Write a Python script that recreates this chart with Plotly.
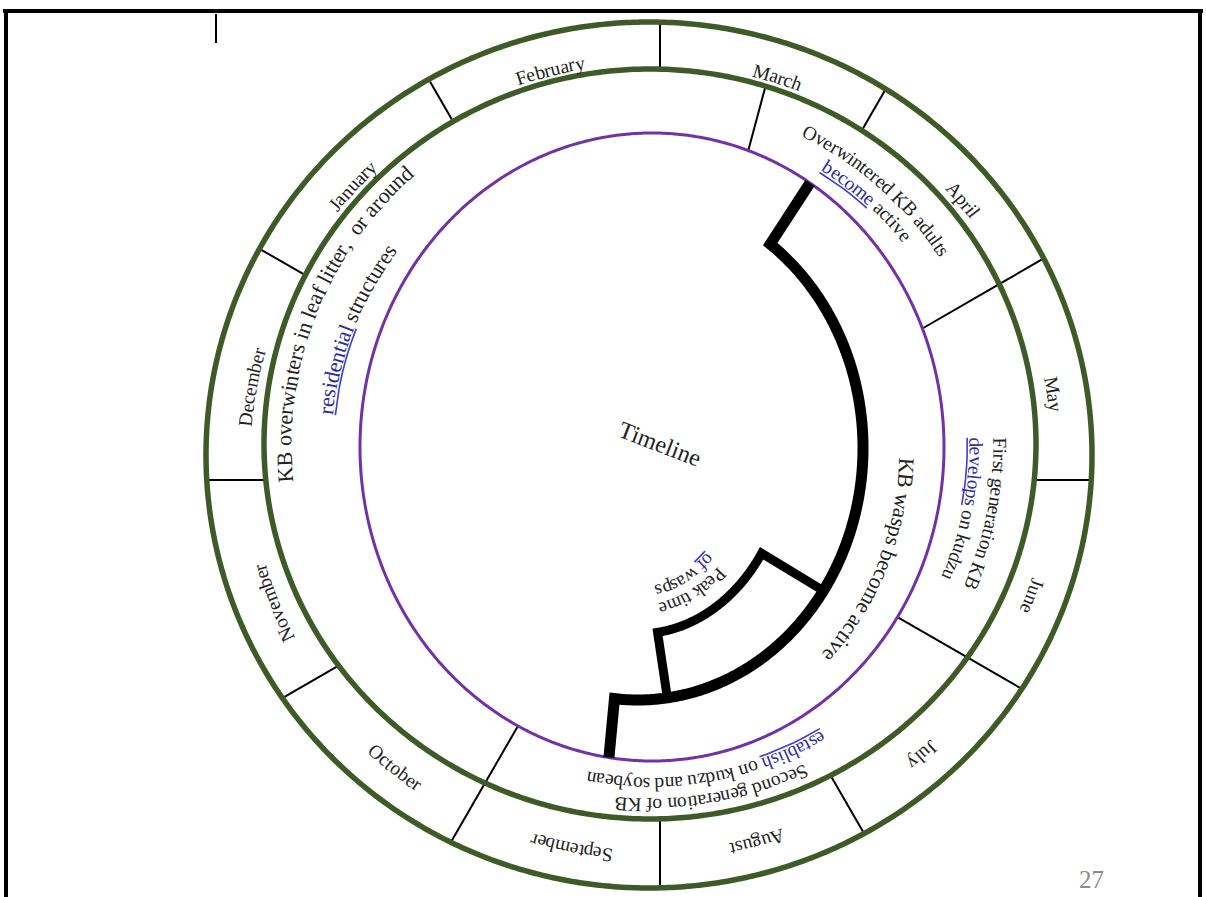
import numpy as np
import plotly.graph_objects as go

months = ["January", "February", "March", "April", "May", "June", "July",
          "August", "September", "October", "November", "December"]

# notes in the band inside the month ring ("~" marks a word with a blue squiggle)
event_lines = [["KB overwinters in leaf litter,  or around", "~residential structures"],
               ["Overwintered KB adults", "~become active"],
               ["First generation KB", "~develops on kudzu"],
               ["Second generation of KB", "~establish on kudzu and soybean"]]
event_month = [11.72, 3.38, 5.38, 7.67]     # months since 1 Jan where each note sits
event_breaks = [2.5, 4.0, 6.0, 9.0]         # dividers of the notes band

# wasp season arcs (months since 1 Jan)
wasp_active = [3.2, 8.2]
wasp_peak = [6.15, 7.75]
wasp_label_month = [5.78, 7.13]

FONT = "Liberation Serif, Times New Roman, serif"
INK = "#222222"
BLUE = "#2c2ca0"
GREEN = "#3e5a27"
PURPLE = "#7232a3"

OUTER = (649, 455, 443, 433)
MIDDLE = (650, 444, 386, 375)
PURPLE_E = (652, 447, 292, 314)
LABEL = (651, 457, 407, 400)
HUB = (660, 480)
LABEL_HUB = (665, 498)
ARC = (638, 448, 225, 252)
INNER = (638, 448, 150, 186)

# Times / Liberation Serif advance widths (1/1000 em)
W = {' ': 250, ',': 250, '.': 250,
     'A': 722, 'B': 667, 'C': 667, 'D': 722, 'E': 611, 'F': 556, 'G': 722, 'H': 722,
     'I': 333, 'J': 389, 'K': 722, 'L': 611, 'M': 889, 'N': 722, 'O': 722, 'P': 556,
     'Q': 722, 'R': 667, 'S': 556, 'T': 611, 'U': 722, 'V': 722, 'W': 944, 'X': 722,
     'Y': 722, 'Z': 611,
     'a': 444, 'b': 500, 'c': 444, 'd': 500, 'e': 444, 'f': 333, 'g': 500, 'h': 500,
     'i': 278, 'j': 278, 'k': 500, 'l': 278, 'm': 778, 'n': 500, 'o': 500, 'p': 500,
     'q': 500, 'r': 333, 's': 389, 't': 278, 'u': 500, 'v': 500, 'w': 722, 'x': 500,
     'y': 500, 'z': 444}


def month_ang(m):
    return 150 - 30 * m


def ell_pts(ell, t):
    cx, cy, rx, ry = ell
    t = np.radians(t)
    return cx + rx * np.cos(t), cy - ry * np.sin(t)


def ray_hit(origin, ang, ell):
    cx, cy, rx, ry = ell
    ox, oy = origin
    dx, dy = np.cos(np.radians(ang)), -np.sin(np.radians(ang))
    a = (dx / rx) ** 2 + (dy / ry) ** 2
    b = 2 * ((ox - cx) * dx / rx ** 2 + (oy - cy) * dy / ry ** 2)
    c = ((ox - cx) / rx) ** 2 + ((oy - cy) / ry) ** 2 - 1
    s = (-b + np.sqrt(b * b - 4 * a * c)) / (2 * a)
    return ox + s * dx, oy + s * dy


annotations = []
ul_x, ul_y = [], []


def arc_text(line, ell, t_mid, size, clockwise=True, color=INK):
    cx, cy, rx, ry = ell
    chars, blue = [], []
    for k, w in enumerate(line.split(" ")):
        b = w.startswith("~")
        w = w.lstrip("~")
        if k:
            chars.append(" ")
            blue.append(False)
        for ch in w:
            chars.append(ch)
            blue.append(b)
    wid = np.array([W.get(ch, 500) for ch in chars]) * size / 1000
    mid = np.cumsum(wid) - wid / 2 - wid.sum() / 2
    sgn = -1 if clockwise else 1
    ts = np.radians(t_mid + sgn * np.linspace(-100, 100, 4001))
    xs = cx + rx * np.cos(ts)
    ys = cy - ry * np.sin(ts)
    s = np.concatenate([[0], np.cumsum(np.hypot(np.diff(xs), np.diff(ys)))])
    s -= s[2000]
    prev = False
    for ch, p, bl in zip(chars, mid, blue):
        x = np.interp(p, s, xs)
        y = np.interp(p, s, ys)
        k = int(np.clip(np.searchsorted(s, p), 1, len(s) - 2))
        ang = np.degrees(np.arctan2(ys[k + 1] - ys[k - 1], xs[k + 1] - xs[k - 1]))
        if ch != " ":
            annotations.append(dict(x=x, y=y, text=ch, textangle=ang, showarrow=False,
                                    xanchor="center", yanchor="middle",
                                    font=dict(family=FONT, size=size,
                                              color=BLUE if bl else color)))
        if bl:
            off = 0.45 * size
            a = np.radians(ang)
            for q in (-0.5, 0.5):
                qx = x + q * W.get(ch, 500) * size / 1000 * np.cos(a)
                qy = y + q * W.get(ch, 500) * size / 1000 * np.sin(a)
                ul_x.append(qx - off * np.sin(a))
                ul_y.append(qy + off * np.cos(a))
        elif prev:
            ul_x.append(None)
            ul_y.append(None)
        prev = bl
    if prev:
        ul_x.append(None)
        ul_y.append(None)


fig = go.Figure()

# month dividers and note dividers (drawn along rays from the hub)
dx, dy = [], []
for i in range(12):
    a = month_ang(i)
    p0 = ray_hit(HUB, a, MIDDLE)
    p1 = ray_hit(HUB, a, OUTER)
    dx += [p0[0], p1[0], None]
    dy += [p0[1], p1[1], None]
for m in event_breaks:
    a = month_ang(m)
    p0 = ray_hit(HUB, a, PURPLE_E)
    p1 = ray_hit(HUB, a, MIDDLE)
    dx += [p0[0], p1[0], None]
    dy += [p0[1], p1[1], None]
fig.add_trace(go.Scatter(x=dx, y=dy, mode="lines", line=dict(color="black", width=2),
                         hoverinfo="skip"))

full = np.linspace(0, 360, 721)
for ell, col, w in [(OUTER, GREEN, 5.5), (MIDDLE, GREEN, 5.5), (PURPLE_E, PURPLE, 3)]:
    x, y = ell_pts(ell, full)
    fig.add_trace(go.Scatter(x=x, y=y, mode="lines",
                             line=dict(color=col, width=w, simplify=False),
                             hoverinfo="skip"))

# wasp activity arc with spurs out to the purple ring
t0, t1 = month_ang(wasp_active[0]), month_ang(wasp_active[1])
ax, ay = ell_pts(ARC, np.linspace(t0, t1, 300))


def spur(px, py):
    ang = np.degrees(np.arctan2(-(py - ARC[1]), px - ARC[0]))
    return ray_hit(ARC[:2], ang, PURPLE_E)


s0 = spur(ax[0], ay[0])
s1 = spur(ax[-1], ay[-1])
fig.add_trace(go.Scatter(x=[s0[0]] + list(ax) + [s1[0]], y=[s0[1]] + list(ay) + [s1[1]],
                         mode="lines", line=dict(color="black", width=11, simplify=False),
                         hoverinfo="skip"))

p0, p1 = month_ang(wasp_peak[0]), month_ang(wasp_peak[1])
ix, iy = ell_pts(INNER, np.linspace(p0, p1, 200))
m0 = ell_pts(ARC, p0)
m1 = ell_pts(ARC, p1)
fig.add_trace(go.Scatter(x=[m0[0]] + list(ix) + [m1[0]], y=[m0[1]] + list(iy) + [m1[1]],
                         mode="lines", line=dict(color="black", width=9, simplify=False),
                         hoverinfo="skip"))

# month names
for i, name in enumerate(months):
    a = month_ang(i + 0.5)
    px, py = ray_hit(LABEL_HUB, a, LABEL)
    t = np.degrees(np.arctan2(-(py - LABEL[1]) / LABEL[3], (px - LABEL[0]) / LABEL[2]))
    arc_text(name, LABEL, t, 19.5, clockwise=(name != "October"))

ev_r = [[367, 327], [351, 330], [349, 325], [359, 338]]
ev_size = [22, 19.5, 19.5, 19.5]
for lines, m, rr, sz in zip(event_lines, event_month, ev_r, ev_size):
    for line, r in zip(lines, rr):
        arc_text(line, (651, 446, r, r), month_ang(m), sz)

arc_text("KB wasps become active", (638, 448, 269, 296), month_ang(wasp_label_month[0]), 22)
arc_text("Peak time", (638, 448, 128, 164), month_ang(wasp_label_month[1]), 19)
arc_text("~of wasps", (638, 448, 110, 146), month_ang(wasp_label_month[1]), 19)

fig.add_trace(go.Scatter(x=ul_x, y=ul_y, mode="lines", line=dict(color="#3c3cd0", width=1.6),
                         hoverinfo="skip"))

annotations.append(dict(x=660, y=444, text="Timeline", textangle=21, showarrow=False,
                        font=dict(family=FONT, size=24, color=INK)))
annotations.append(dict(x=1091, y=879, text="27", showarrow=False,
                        font=dict(family=FONT, size=25, color="#8a8a8a")))

shapes = [
    dict(type="line", x0=3, x1=1203, y0=11, y1=11, line=dict(color="black", width=4)),
    dict(type="line", x0=6, x1=6, y0=9, y1=900, line=dict(color="black", width=4)),
    dict(type="line", x0=1200, x1=1200, y0=9, y1=900, line=dict(color="black", width=4)),
    dict(type="line", x0=216, x1=216, y0=14, y1=43, line=dict(color="black", width=2)),
]

fig.update_layout(width=1206, height=897, margin=dict(l=0, r=0, t=0, b=0),
                  paper_bgcolor="white", plot_bgcolor="white", showlegend=False,
                  xaxis=dict(range=[0, 1206], visible=False, fixedrange=True),
                  yaxis=dict(range=[897, 0], visible=False, fixedrange=True),
                  annotations=annotations, shapes=shapes)

fig.write_html("out.html", config={"displayModeBar": False},
               post_script="document.body.style.margin='0';document.body.style.overflow='hidden';")
